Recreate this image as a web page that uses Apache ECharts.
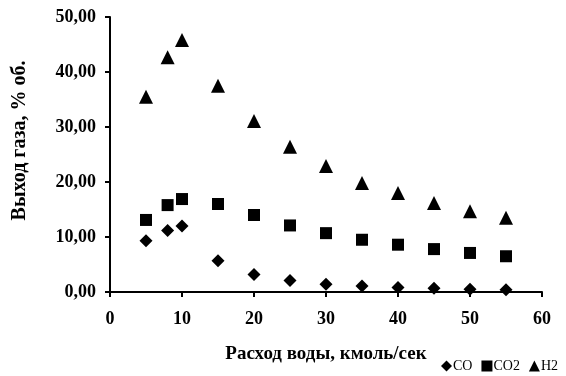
<!DOCTYPE html>
<html>
<head>
<meta charset="utf-8">
<script src="https://cdn.jsdelivr.net/npm/echarts@6/dist/echarts.min.js"></script>
<style>
html,body{margin:0;padding:0;background:#fff;}
#chart{width:566px;height:376px;}
</style>
</head>
<body>
<div id="chart"></div>
<script>
// Water flow rate, kmol/s
const waterFlow = [5, 8, 10, 15, 20, 25, 30, 35, 40, 45, 50, 55];
// Gas yield, % vol.
const coYield  = [9.3, 11.2, 12.0, 5.7, 3.2, 2.1, 1.4, 1.1, 0.8, 0.7, 0.5, 0.4];
const co2Yield = [13.1, 15.8, 16.9, 16.0, 14.0, 12.1, 10.7, 9.5, 8.6, 7.8, 7.1, 6.5];
const h2Yield  = [35.5, 42.7, 45.8, 37.5, 31.1, 26.4, 22.9, 19.8, 18.0, 16.2, 14.7, 13.5];
const seriesNames = ['CO', 'CO2', 'H2'];

const font = '"Liberation Serif", "Times New Roman", serif';
const pair = ys => waterFlow.map((x, i) => [x, ys[i]]);
const black = {color: '#000', opacity: 1};

const chart = echarts.init(document.getElementById('chart'));
chart.setOption({
  animation: false,
  backgroundColor: '#fff',
  grid: {left: 110, right: 24, top: 17, bottom: 84},
  legend: {
    right: 8, bottom: 3, padding: 0,
    itemWidth: 11, itemHeight: 11, itemGap: 9,
    textStyle: {fontFamily: font, fontSize: 14, color: '#000', padding: [0, 0, 0, -4]},
    data: seriesNames
  },
  xAxis: {
    type: 'value', min: 0, max: 60, interval: 10,
    name: 'Расход воды, кмоль/сек', nameLocation: 'middle', nameGap: 53,
    nameTextStyle: {fontFamily: font, fontSize: 19, fontWeight: 'bold', color: '#000'},
    axisLine: {show: true, lineStyle: {color: '#000', width: 2}},
    axisTick: {show: true, inside: false, length: 5, lineStyle: {color: '#000', width: 2}},
    axisLabel: {fontFamily: font, fontSize: 18, fontWeight: 'bold', color: '#000', margin: 18},
    splitLine: {show: false}
  },
  yAxis: {
    type: 'value', min: 0, max: 50, interval: 10,
    name: 'Выход газа, % об.', nameLocation: 'middle', nameGap: 80, nameRotate: 90,
    nameTextStyle: {fontFamily: font, fontSize: 20, fontWeight: 'bold', color: '#000', padding: [0, 0, 0, 28]},
    axisLine: {show: true, lineStyle: {color: '#000', width: 2}},
    axisTick: {show: true, inside: false, length: 5, lineStyle: {color: '#000', width: 2}},
    axisLabel: {fontFamily: font, fontSize: 18, fontWeight: 'bold', color: '#000', margin: 14,
      formatter: v => v.toFixed(2).replace('.', ',')},
    splitLine: {show: false}
  },
  series: [
    {name: 'CO', type: 'scatter', symbol: 'diamond', symbolSize: 13, data: pair(coYield), itemStyle: black},
    {name: 'CO2', type: 'scatter', symbol: 'rect', symbolSize: 12, data: pair(co2Yield), itemStyle: black},
    {name: 'H2', type: 'scatter', symbol: 'triangle', symbolSize: 14, data: pair(h2Yield), itemStyle: black}
  ]
});
</script>
</body>
</html>
